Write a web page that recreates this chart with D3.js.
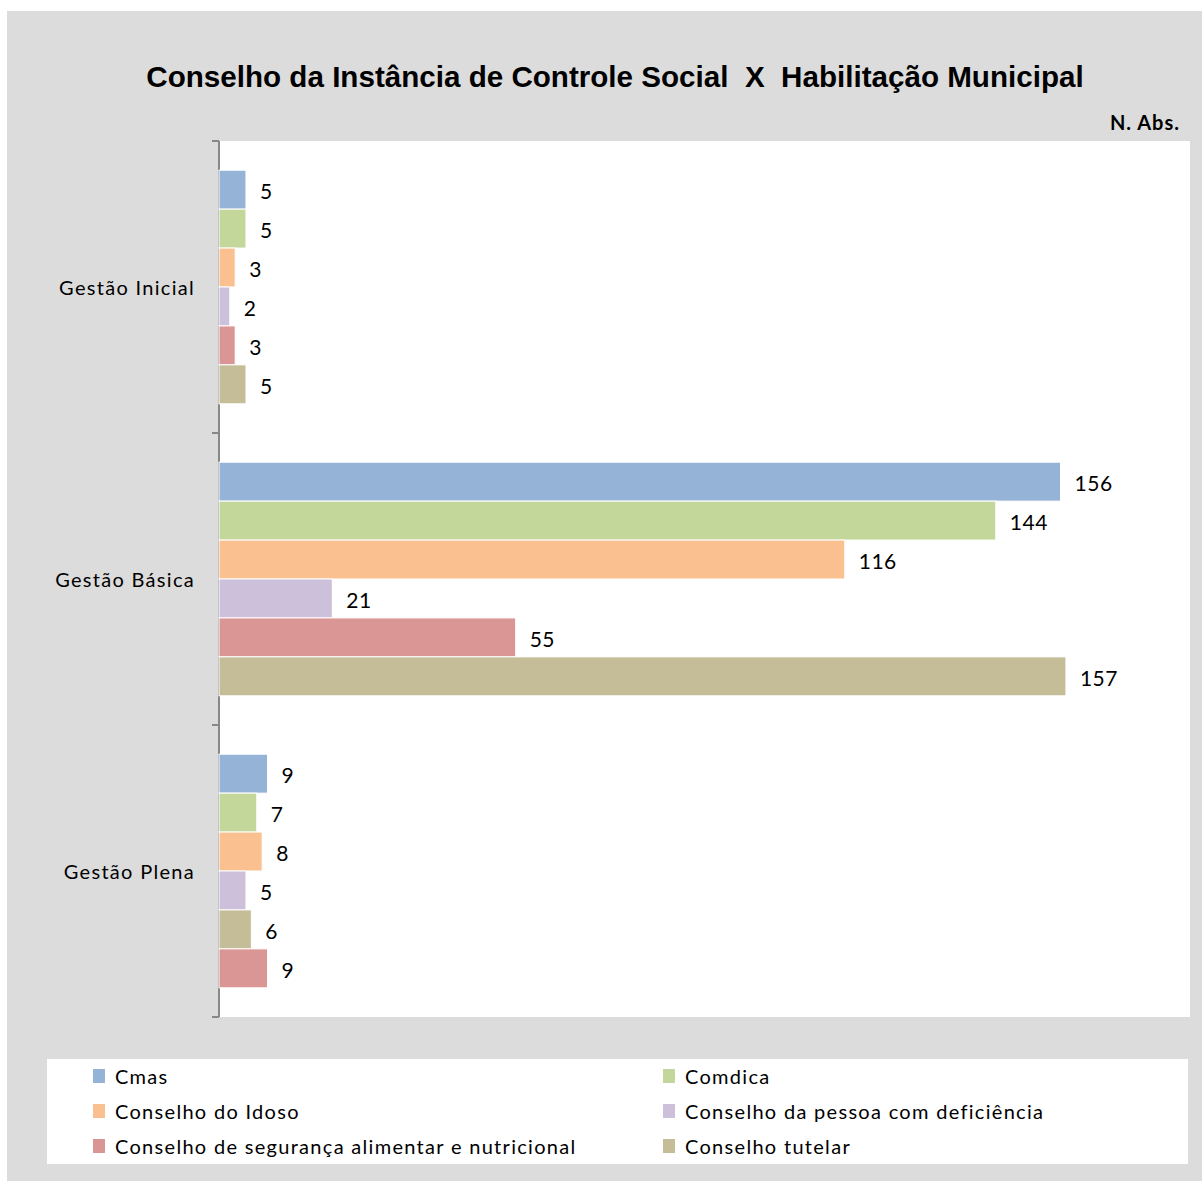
<!DOCTYPE html>
<html>
<head>
<meta charset="utf-8">
<script src="https://cdn.jsdelivr.net/npm/d3@7"></script>
<style>
  body { margin: 0; background: #fff; }
  svg { display: block; }
</style>
</head>
<body>
<div id="chart"></div>
<script>
// data
const categories = ['Gestão Inicial', 'Gestão Básica', 'Gestão Plena'];
const seriesNames = ['Cmas', 'Comdica', 'Conselho do Idoso', 'Conselho da pessoa com deficiência',
  'Conselho de segurança alimentar e nutricional', 'Conselho tutelar'];
const cmas = [5, 156, 9];
const comdica = [5, 144, 7];
const idoso = [3, 116, 8];
const deficiencia = [2, 21, 5];
const seguranca = [3, 55, 9];
const tutelar = [5, 157, 6];
// in the last group the last two bars appear swapped
const barOrder = [[0, 1, 2, 3, 4, 5], [0, 1, 2, 3, 4, 5], [0, 1, 2, 3, 5, 4]];

const colors = ['#95b3d7', '#c4d79b', '#fac090', '#ccc0da', '#da9694', '#c4bd97'];
const values = [cmas, comdica, idoso, deficiencia, seguranca, tutelar];

const width = 1202, height = 1181;
const font = 'Lato, "Open Sans", sans-serif';

const svg = d3.select('#chart').append('svg')
  .attr('width', width)
  .attr('height', height);

// gray chart area
svg.append('rect')
  .attr('x', 7).attr('y', 11)
  .attr('width', width - 7).attr('height', height - 11)
  .attr('fill', '#dcdcdc');

const plot = { left: 219, top: 141, right: 1190, bottom: 1017 };

svg.append('rect')
  .attr('x', plot.left).attr('y', plot.top)
  .attr('width', plot.right - plot.left).attr('height', plot.bottom - plot.top)
  .attr('fill', '#fff');

// title
svg.append('text')
  .attr('x', 615).attr('y', 87)
  .attr('text-anchor', 'middle')
  .attr('xml:space', 'preserve')
  .style('font-family', 'Arial, "Liberation Sans", sans-serif')
  .style('font-weight', 'bold')
  .style('font-size', '29.6px')
  .text('Conselho da Instância de Controle Social  X  Habilitação Municipal');

svg.append('text')
  .attr('x', 1180).attr('y', 130)
  .attr('text-anchor', 'end')
  .style('font-family', font)
  .style('font-weight', 'bold')
  .style('font-size', '20px')
  .style('letter-spacing', '1px')
  .text('N. Abs.');

const x = d3.scaleLinear()
  .domain([0, 180])
  .range([plot.left, plot.right]);

const y = d3.scaleBand()
  .domain(categories)
  .range([plot.top, plot.bottom])
  .paddingInner(0.2)
  .paddingOuter(0.1);

const ySlot = d3.scaleBand()
  .domain(d3.range(seriesNames.length))
  .range([0, y.bandwidth()]);

// category axis
const axis = svg.append('g')
  .attr('transform', `translate(${plot.left},0)`)
  .call(d3.axisLeft(y).tickSize(0).tickPadding(24));
axis.select('.domain').remove();
axis.selectAll('text')
  .attr('y', 2)
  .style('font-family', font)
  .style('font-size', '20px')
  .style('letter-spacing', '1.3px')
  .attr('fill', '#000');

svg.append('line')
  .attr('x1', plot.left).attr('x2', plot.left)
  .attr('y1', plot.top).attr('y2', plot.bottom)
  .attr('stroke', '#888').attr('stroke-width', 2);

const step = (plot.bottom - plot.top) / categories.length;
svg.selectAll('.tick-mark')
  .data(d3.range(categories.length + 1))
  .enter().append('line')
  .attr('x1', plot.left - 7).attr('x2', plot.left)
  .attr('y1', d => plot.top + d * step)
  .attr('y2', d => plot.top + d * step)
  .attr('stroke', '#888').attr('stroke-width', 2);

// bars
const bars = [];
categories.forEach((c, ci) => {
  barOrder[ci].forEach((si, slot) => {
    bars.push({ cat: c, series: si, slot: slot, value: values[si][ci] });
  });
});

const barG = svg.append('g');
barG.selectAll('rect')
  .data(bars)
  .enter().append('rect')
  .attr('x', x(0))
  .attr('y', d => y(d.cat) + ySlot(d.slot))
  .attr('width', d => x(d.value) - x(0))
  .attr('height', ySlot.bandwidth())
  .attr('fill', d => colors[d.series])
  .attr('stroke', '#fff')
  .attr('stroke-width', 1);

barG.selectAll('text')
  .data(bars)
  .enter().append('text')
  .attr('x', d => x(d.value) + 14)
  .attr('y', d => y(d.cat) + ySlot(d.slot) + ySlot.bandwidth() / 2 + 2)
  .attr('dy', '0.35em')
  .style('font-family', font)
  .style('font-size', '21px')
  .style('letter-spacing', '0.5px')
  .attr('fill', '#000')
  .text(d => d.value);

// legend
svg.append('rect')
  .attr('x', 47).attr('y', 1059)
  .attr('width', 1141).attr('height', 105)
  .attr('fill', '#fff');

const legend = svg.append('g')
  .selectAll('g')
  .data(seriesNames)
  .enter().append('g')
  .attr('transform', (d, i) => `translate(${i % 2 === 0 ? 93 : 663},${1076 + Math.floor(i / 2) * 35})`);

legend.append('rect')
  .attr('x', 0).attr('y', -7)
  .attr('width', 12).attr('height', 14)
  .attr('fill', (d, i) => colors[i]);

legend.append('text')
  .attr('x', 22).attr('y', 1)
  .attr('dy', '0.35em')
  .style('font-family', font)
  .style('font-size', '20px')
  .style('letter-spacing', '1.3px')
  .attr('fill', '#000')
  .text(d => d);
</script>
</body>
</html>
